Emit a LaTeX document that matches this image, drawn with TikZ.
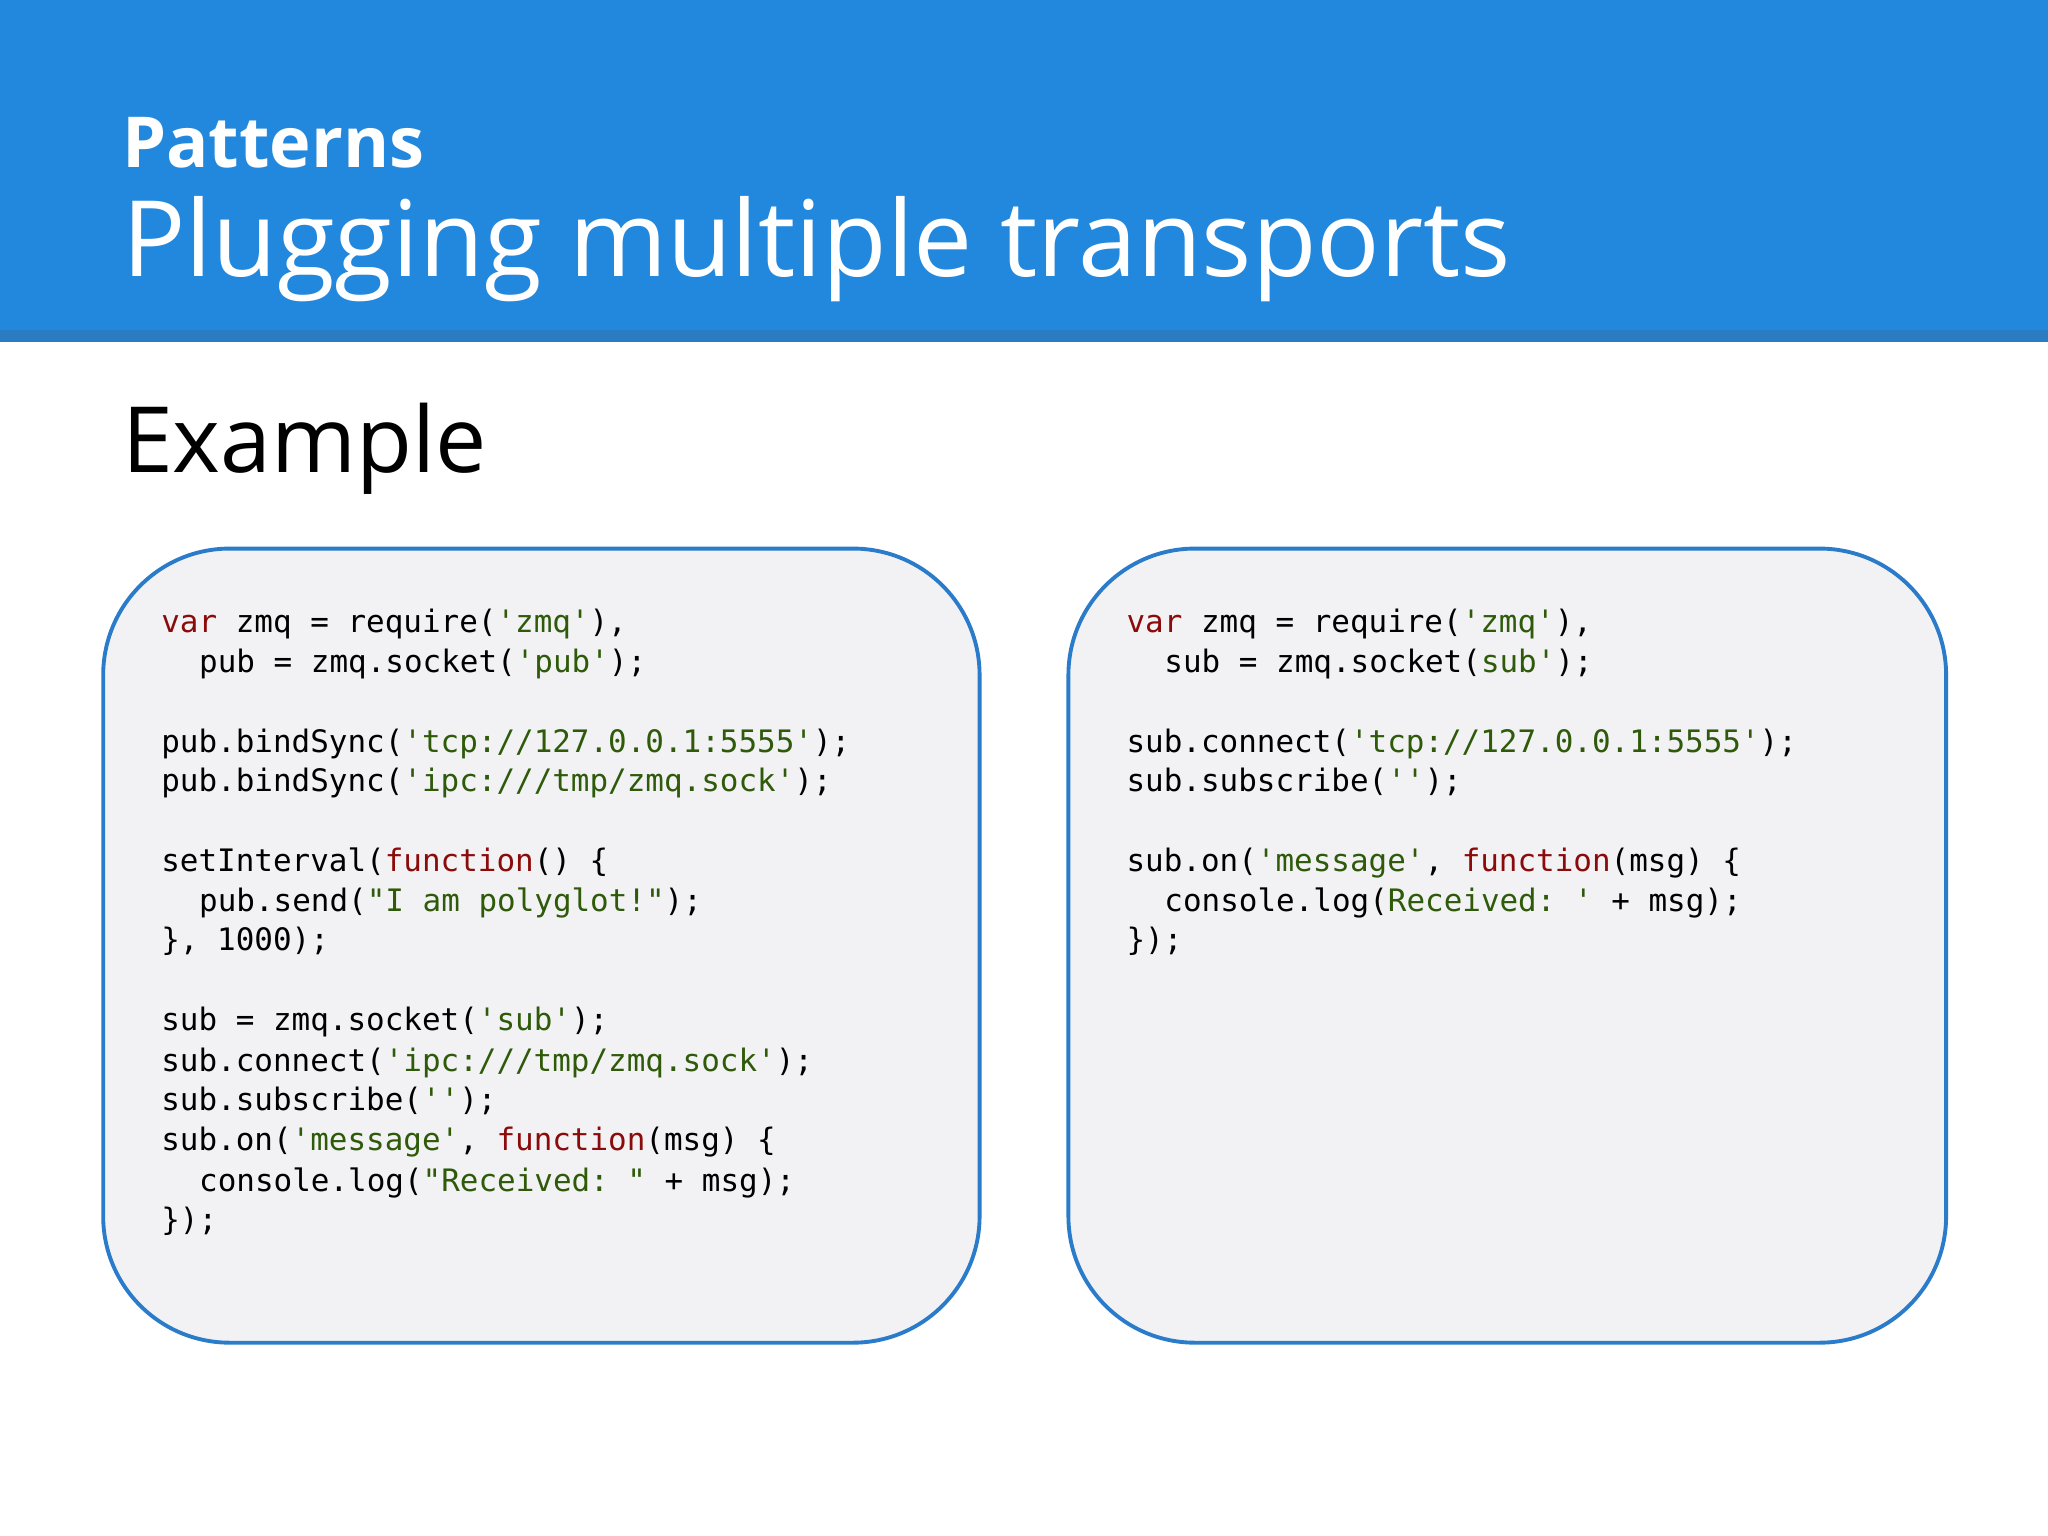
\documentclass[tikz,border=0pt]{standalone}
\usepackage{fontspec}
\setmainfont{Open Sans}
\setmonofont{DejaVu Sans Mono}
\definecolor{hdr}{HTML}{2288DD}
\definecolor{hdrline}{HTML}{2B7BC2}
\definecolor{boxline}{HTML}{2A7BC9}
\definecolor{boxfill}{HTML}{F2F2F4}
\definecolor{kw}{HTML}{8B0A0A}
\definecolor{st}{HTML}{2E5A0A}
\newcommand{\K}[1]{\textcolor{kw}{#1}}
\newcommand{\St}[1]{\textcolor{st}{#1}}
\tikzset{codeln/.style={anchor=base west,inner sep=0pt,font=\fontsize{8.8}{11}\ttfamily},
  codebox/.style={draw=boxline,line width=1.1pt,fill=boxfill,rounded corners=36pt}}
\begin{document}
\begin{tikzpicture}[x=0.013061cm,y=-0.013061cm]
\useasboundingbox (0,0) rectangle (1568,1176);
\fill[white] (0,0) rectangle (1568,1176);
\fill[hdr] (0,0) rectangle (1568,253);
\fill[hdrline] (0,253) rectangle (1568,262);
\node[anchor=base west,inner sep=0pt,text=white,font=\bfseries\fontsize{20}{24}\selectfont] (pat) at (93,128) {Patterns};
\node[anchor=base west,inner sep=0pt,text=white,font=\fontsize{30}{36}\selectfont] (ttl) at (93,212) {Plugging multiple transports};
\node[anchor=base west,inner sep=0pt,font=\fontsize{26}{30}\selectfont] (ex) at (93,362) {Example};
\draw[codebox] (79,420) rectangle (750,1028);
\draw[codebox] (818,420) rectangle (1490,1028);
% left code
\def\xa{123}\def\xb{152}
\node[codeln] (l1) at (\xa,484) {\K{var} zmq = require(\St{'zmq'}),};
\node[codeln] (l2) at (\xb,515) {pub = zmq.socket(\St{'pub'});};
\node[codeln] (l3) at (\xa,576) {pub.bindSync(\St{'tcp://127.0.0.1:5555'});};
\node[codeln] (l4) at (\xa,606) {pub.bindSync(\St{'ipc:///tmp/zmq.sock'});};
\node[codeln] (l5) at (\xa,667) {setInterval(\K{function}() \{};
\node[codeln] (l6) at (\xb,698) {pub.send(\St{"I am polyglot!"});};
\node[codeln] (l7) at (\xa,728) {\}, 1000);};
\node[codeln] (l8) at (\xa,789) {sub = zmq.socket(\St{'sub'});};
\node[codeln] (l9) at (\xa,820) {sub.connect(\St{'ipc:///tmp/zmq.sock'});};
\node[codeln] (l10) at (\xa,850) {sub.subscribe(\St{''});};
\node[codeln] (l11) at (\xa,881) {sub.on(\St{'message'}, \K{function}(msg) \{};
\node[codeln] (l12) at (\xb,912) {console.log(\St{"Received: "} + msg);};
\node[codeln] (l13) at (\xa,942) {\});};
% right code
\def\xc{862}\def\xd{891}
\node[codeln] (r1) at (\xc,484) {\K{var} zmq = require(\St{'zmq'}),};
\node[codeln] (r2) at (\xd,515) {sub = zmq.socket(\St{sub'});};
\node[codeln] (r3) at (\xc,576) {sub.connect(\St{'tcp://127.0.0.1:5555'});};
\node[codeln] (r4) at (\xc,606) {sub.subscribe(\St{''});};
\node[codeln] (r5) at (\xc,667) {sub.on(\St{'message'}, \K{function}(msg) \{};
\node[codeln] (r6) at (\xd,698) {console.log(\St{Received: '} + msg);};
\node[codeln] (r7) at (\xc,728) {\});};
\end{tikzpicture}
\end{document}
